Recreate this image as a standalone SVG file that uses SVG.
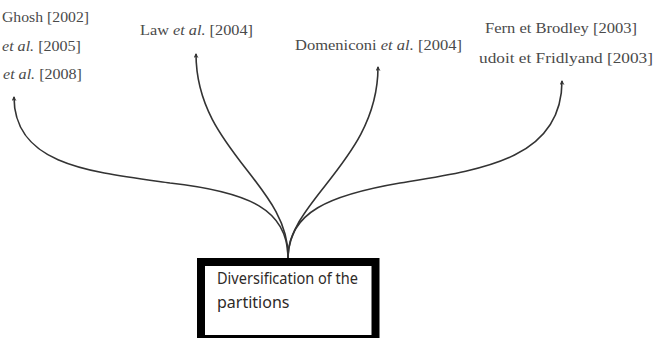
<svg xmlns="http://www.w3.org/2000/svg" width="654" height="338" viewBox="0 0 654 338">
  <style>
    .ref { font-family: "Liberation Serif", "DejaVu Serif", serif; font-size: 14.5px; fill: #4a4a4a; }
    .it { font-style: italic; }
    .conn { fill: none; stroke: #333; stroke-width: 1.6; marker-end: url(#arr); }
    .boxtxt { font-family: "Noto Sans", "Open Sans", sans-serif; font-size: 16px; fill: #2e2a28; }
  </style>
  <defs>
    <marker id="arr" viewBox="0 0 10 10" refX="8" refY="5" markerWidth="5" markerHeight="5" orient="auto" markerUnits="userSpaceOnUse">
      <path d="M0,0 L10,5 L0,10 L3,5 Z" fill="#333"/>
    </marker>
  </defs>
  <rect width="654" height="338" fill="#ffffff"/>

  <g id="connectors">
    <path class="conn" d="M288,258 C288,210 250,192 170,183 C90,172 14,165 14,97"/>
    <path class="conn" d="M288,258 C290,185 196,150 196,54"/>
    <path class="conn" d="M288,258 C288,200 378,160 378,67"/>
    <path class="conn" d="M288,258 C288,212 330,195 400,183 C480,170 562,160 562,81"/>
  </g>

  <g id="node-left">
    <text class="ref" x="2" y="22" textLength="87" lengthAdjust="spacingAndGlyphs">Ghosh [2002]</text>
    <text class="ref" x="2" y="51" textLength="79" lengthAdjust="spacingAndGlyphs"><tspan class="it">et al.</tspan> [2005]</text>
    <text class="ref" x="3" y="79" textLength="79" lengthAdjust="spacingAndGlyphs"><tspan class="it">et al.</tspan> [2008]</text>
  </g>

  <g id="node-law">
    <text class="ref" x="140" y="35" textLength="113" lengthAdjust="spacingAndGlyphs">Law <tspan class="it">et al.</tspan> [2004]</text>
  </g>

  <g id="node-domeniconi">
    <text class="ref" x="295" y="50" textLength="167" lengthAdjust="spacingAndGlyphs">Domeniconi <tspan class="it">et al.</tspan> [2004]</text>
  </g>

  <g id="node-right">
    <text class="ref" x="485" y="33" textLength="152" lengthAdjust="spacingAndGlyphs">Fern et Brodley [2003]</text>
    <text class="ref" x="479" y="63" textLength="174" lengthAdjust="spacingAndGlyphs">udoit et Fridlyand [2003]</text>
  </g>

  <g id="node-box">
    <rect x="201" y="262" width="174.5" height="77" fill="#ffffff" stroke="#000" stroke-width="8"/>
    <text class="boxtxt" x="217" y="284" textLength="141" lengthAdjust="spacingAndGlyphs">Diversification of the</text>
    <text class="boxtxt" x="217" y="308">partitions</text>
  </g>
</svg>
